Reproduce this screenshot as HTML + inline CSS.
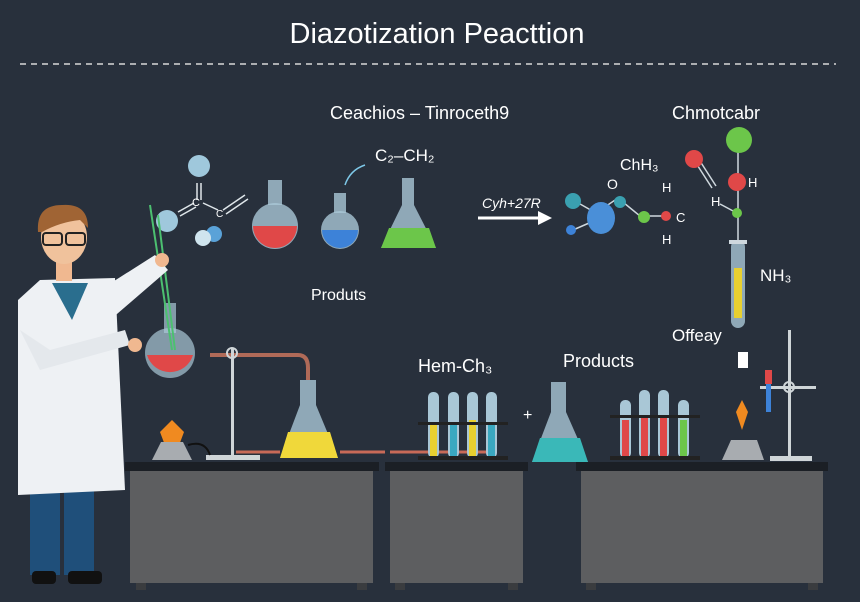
<!DOCTYPE html>
<html><head><meta charset="utf-8"><style>
html,body{margin:0;padding:0;background:#28303c;}
svg{display:block}
text{font-family:"Liberation Sans",sans-serif;fill:#fff}
</style></head><body>
<svg width="860" height="602" viewBox="0 0 860 602" xmlns="http://www.w3.org/2000/svg">
<rect width="860" height="602" fill="#28303c"/>
<text x="437" y="43" font-size="29" text-anchor="middle" fill="#f2f2f2">Diazotization Peacttion</text>
<line x1="20" y1="64" x2="836" y2="64" stroke="#d8d8d8" stroke-width="1.5" stroke-dasharray="6,5"/>

<!-- labels -->
<text x="330" y="119" font-size="18">Ceachios  –  Tinroceth9</text>
<text x="672" y="119" font-size="18">Chmotcabr</text>
<text x="375" y="161" font-size="17">C₂–CH₂</text>
<path d="M345 185 Q350 170 365 165" stroke="#7ec8e8" fill="none" stroke-width="1.5"/>
<text x="482" y="208" font-size="14" font-style="italic">Cyh+27R</text>
<path d="M478 218 H540" stroke="#fff" stroke-width="3"/><path d="M538 211 L552 218 L538 225Z" fill="#fff"/>
<text x="620" y="170" font-size="16">ChH₃</text>
<text x="607" y="189" font-size="14">O</text>
<text x="662" y="192" font-size="13">H</text>
<text x="676" y="222" font-size="13">C</text>
<text x="662" y="244" font-size="13">H</text>
<text x="711" y="206" font-size="13">H</text>
<text x="748" y="187" font-size="13">H</text>
<text x="760" y="281" font-size="17">NH₃</text>
<text x="672" y="341" font-size="17">Offeay</text>
<text x="311" y="300" font-size="16">Produts</text>
<text x="418" y="372" font-size="18">Hem-Ch₃</text>
<text x="563" y="367" font-size="18">Products</text>
<text x="523" y="420" font-size="16">+</text>

<!-- left molecule -->
<g stroke="#dfe6ea" stroke-width="1.5" fill="none">
<path d="M178 212 L194 203 M180 216 L196 207"/><path d="M197 183 V200 M201 183 V200"/>
<path d="M203 203 L218 210"/><path d="M223 210 L245 195 M226 214 L248 199"/>
</g>
<text x="192" y="206" font-size="11">C</text><text x="216" y="217" font-size="10">C</text>
<circle cx="199" cy="166" r="11" fill="#9fc8dc"/>
<circle cx="167" cy="221" r="11" fill="#9fc8dc"/>
<circle cx="214" cy="234" r="8" fill="#5aa2d8"/><circle cx="203" cy="238" r="8" fill="#cfe4ee"/>

<!-- flasks top -->
<g>
<rect x="268" y="180" width="14" height="25" fill="#a9c7d6" opacity=".8"/>
<circle cx="275" cy="226" r="23" fill="#a9c7d6" opacity=".8"/>
<path d="M253 226 A22 22 0 0 0 297 226Z" fill="#e04848"/>
<rect x="334" y="193" width="12" height="20" fill="#a9c7d6" opacity=".8"/>
<circle cx="340" cy="230" r="19" fill="#a9c7d6" opacity=".8"/>
<path d="M322 230 A18 18 0 0 0 358 230Z" fill="#3d82d8"/>
<path d="M402 178 H414 V205 L436 248 H381 L402 205Z" fill="#a9c7d6" opacity=".8"/>
<path d="M389 228 H429 L436 248 H381Z" fill="#6cc64a"/>
</g>

<!-- right molecule -->
<g stroke="#cfd8de" stroke-width="1.5" fill="none">
<path d="M573 200 L596 213 L618 198 L640 216 L662 216"/><path d="M573 230 L596 220"/>
<path d="M694 160 L712 188 M698 158 L716 186"/><path d="M738 140 V180 M738 190 V240"/>
<path d="M720 204 L735 212"/>
</g>
<circle cx="573" cy="201" r="8" fill="#3aa0b0"/><circle cx="571" cy="230" r="5" fill="#3d82d8"/>
<ellipse cx="601" cy="218" rx="14" ry="16" fill="#4a8fd8"/>
<circle cx="620" cy="202" r="6" fill="#3aa0b0"/>
<circle cx="644" cy="217" r="6" fill="#6cc64a"/><circle cx="666" cy="216" r="5" fill="#e04848"/>
<circle cx="694" cy="159" r="9" fill="#e04848"/>
<circle cx="739" cy="140" r="13" fill="#6cc64a"/><circle cx="737" cy="182" r="9" fill="#e04848"/>
<circle cx="737" cy="213" r="5" fill="#6cc64a"/>
<rect x="731" y="240" width="14" height="88" rx="7" fill="#a9c7d6" opacity=".8"/>
<rect x="734" y="268" width="8" height="50" fill="#e8d030"/>
<rect x="729" y="240" width="18" height="4" fill="#cfd8de"/>

<!-- benches -->
<g>
<rect x="125" y="462" width="254" height="9" fill="#1b1f25"/><rect x="130" y="471" width="243" height="112" fill="#5d5e60"/>
<rect x="136" y="583" width="10" height="7" fill="#3a3c3f"/><rect x="357" y="583" width="10" height="7" fill="#3a3c3f"/>
<rect x="385" y="462" width="143" height="9" fill="#1b1f25"/><rect x="390" y="471" width="133" height="112" fill="#5d5e60"/>
<rect x="395" y="583" width="10" height="7" fill="#3a3c3f"/><rect x="508" y="583" width="10" height="7" fill="#3a3c3f"/>
<rect x="576" y="462" width="252" height="9" fill="#1b1f25"/><rect x="581" y="471" width="242" height="112" fill="#5d5e60"/>
<rect x="586" y="583" width="10" height="7" fill="#3a3c3f"/><rect x="808" y="583" width="10" height="7" fill="#3a3c3f"/>
</g>

<!-- apparatus left -->
<path d="M210 355 H298 Q308 355 308 368 V380" stroke="#b06a58" stroke-width="4" fill="none"/>
<path d="M236 452 H280 M340 452 H385 M390 452 H495" stroke="#c86a58" stroke-width="3"/>
<rect x="231" y="348" width="3" height="108" fill="#cfd5d8"/><rect x="206" y="455" width="54" height="5" fill="#cfd5d8"/>
<circle cx="232" cy="353" r="5" fill="none" stroke="#cfd5d8" stroke-width="2"/>
<rect x="164" y="303" width="12" height="30" fill="#a9c7d6" opacity=".7"/>
<circle cx="170" cy="353" r="25" fill="#a9c7d6" opacity=".7"/>
<path d="M147 355 A24 24 0 0 0 193 355Z" fill="#e04848"/>
<path d="M150 205 L172 350 M158 215 L175 350" stroke="#4cc070" stroke-width="2"/>
<path d="M160 432 L166 448 H178 L184 432 L172 420Z" fill="#f08a20"/>
<path d="M152 460 L161 442 H183 L192 460Z" fill="#a8acb0"/>
<path d="M188 445 Q205 440 210 455" stroke="#111" stroke-width="2" fill="none"/>
<path d="M300 380 H316 V405 L338 458 H280 L300 405Z" fill="#a9c7d6" opacity=".8"/>
<path d="M288 432 H330 L338 458 H280Z" fill="#f0d83a"/>

<!-- test tubes middle -->
<g>
<rect x="428" y="392" width="11" height="66" rx="5" fill="#a9c7d6"/><rect x="430" y="425" width="7" height="31" fill="#e8d030"/>
<rect x="448" y="392" width="11" height="66" rx="5" fill="#a9c7d6"/><rect x="450" y="425" width="7" height="31" fill="#3aa8c0"/>
<rect x="467" y="392" width="11" height="66" rx="5" fill="#a9c7d6"/><rect x="469" y="420" width="7" height="36" fill="#e8d030"/>
<rect x="486" y="392" width="11" height="66" rx="5" fill="#a9c7d6"/><rect x="488" y="425" width="7" height="31" fill="#3aa8c0"/>
<rect x="418" y="422" width="90" height="3" fill="#222"/><rect x="418" y="456" width="90" height="4" fill="#222"/>
<path d="M551 382 H566 V412 L588 462 H532 L551 412Z" fill="#a9c7d6" opacity=".8"/>
<path d="M540 438 H580 L588 462 H532Z" fill="#3ab8b8"/>
</g>
<g>
<rect x="620" y="400" width="11" height="58" rx="5" fill="#a9c7d6"/><rect x="622" y="420" width="7" height="36" fill="#e04848"/>
<rect x="639" y="390" width="11" height="68" rx="5" fill="#a9c7d6"/><rect x="641" y="415" width="7" height="41" fill="#e04848"/>
<rect x="658" y="390" width="11" height="68" rx="5" fill="#a9c7d6"/><rect x="660" y="415" width="7" height="41" fill="#e04848"/>
<rect x="678" y="400" width="11" height="58" rx="5" fill="#a9c7d6"/><rect x="680" y="420" width="7" height="36" fill="#6cc64a"/>
<rect x="610" y="415" width="90" height="3" fill="#222"/><rect x="610" y="456" width="90" height="4" fill="#222"/>
</g>
<!-- right burner and stand -->
<path d="M722 460 L731 440 H757 L764 460Z" fill="#a8acb0"/>
<path d="M736 412 L742 430 L748 412 L742 400Z" fill="#f08a20"/>
<rect x="738" y="352" width="10" height="16" fill="#fff"/>
<rect x="788" y="330" width="3" height="128" fill="#cfd5d8"/><rect x="770" y="456" width="42" height="5" fill="#cfd5d8"/>
<rect x="760" y="386" width="56" height="3" fill="#cfd5d8"/><circle cx="789" cy="387" r="5" fill="none" stroke="#cfd5d8" stroke-width="2"/>
<rect x="765" y="370" width="7" height="14" fill="#e04848"/><rect x="766" y="384" width="5" height="28" fill="#3d82d8"/>

<!-- scientist -->
<g>
<rect x="30" y="490" width="30" height="85" fill="#1f4f7a"/><rect x="64" y="490" width="30" height="85" fill="#1f4f7a"/>
<rect x="32" y="571" width="24" height="13" rx="4" fill="#111"/><rect x="68" y="571" width="34" height="13" rx="4" fill="#111"/>
<path d="M40 280 L115 278 L125 490 L18 495 L18 300Z" fill="#eef1f4"/>
<path d="M52 283 H88 L72 320Z" fill="#2a6e8e"/>
<path d="M100 290 L155 255 L168 270 L110 320Z" fill="#eef1f4"/>
<path d="M20 330 L40 370 L130 345 L125 330 L50 350Z" fill="#e4e8ec"/>
<circle cx="162" cy="260" r="7" fill="#f0b890"/><circle cx="135" cy="345" r="7" fill="#f0b890"/>
<rect x="56" y="255" width="16" height="26" fill="#f0b890"/>
<ellipse cx="64" cy="237" rx="23" ry="27" fill="#f0c29c"/>
<path d="M38 232 Q36 205 62 205 Q88 203 88 228 L80 220 Q60 222 42 232Z" fill="#a06434"/>
<rect x="43" y="233" width="19" height="12" rx="3" fill="none" stroke="#222" stroke-width="2"/>
<rect x="66" y="233" width="19" height="12" rx="3" fill="none" stroke="#222" stroke-width="2"/>
</g>
</svg>
</body></html>
